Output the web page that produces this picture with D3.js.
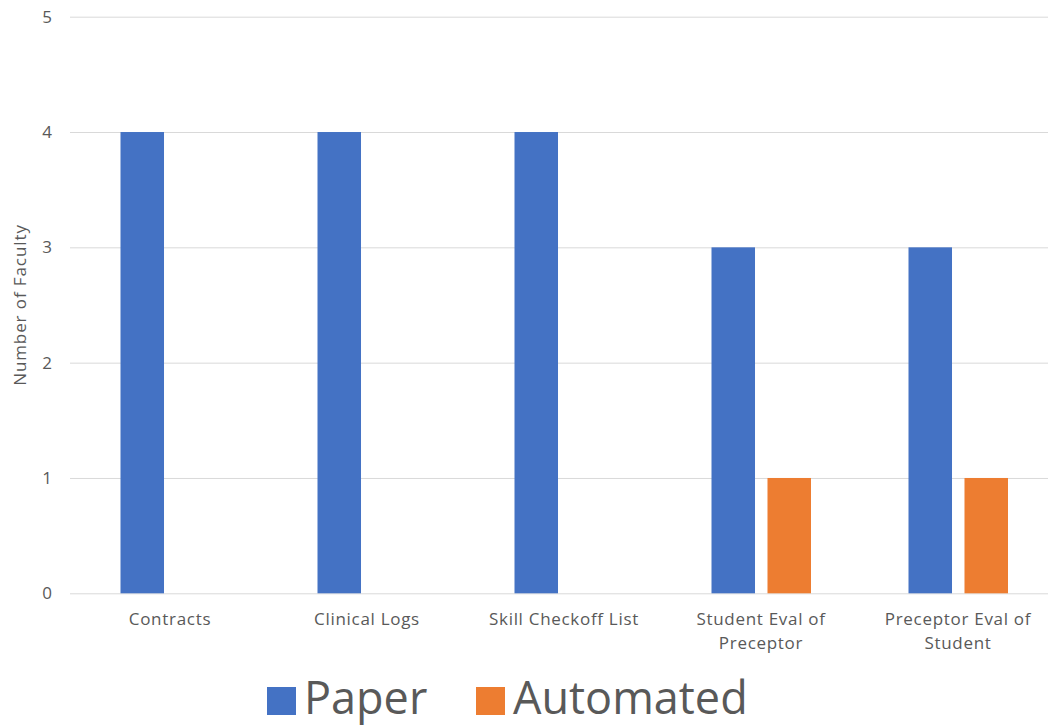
<!DOCTYPE html>
<html><head><meta charset="utf-8">
<script src="https://cdn.jsdelivr.net/npm/d3@7"></script>
<style>
html,body{margin:0;padding:0;background:#fff;}
svg{display:block;font-family:"Open Sans","Noto Sans",sans-serif;}
</style></head>
<body>
<svg id="chart" width="1048" height="726"></svg>
<script>
const categories = [["Contracts"], ["Clinical Logs"], ["Skill Checkoff List"], ["Student Eval of", "Preceptor"], ["Preceptor Eval of", "Student"]];
const series = ["Paper", "Automated"];
const paperValues = [4, 4, 4, 3, 3];
const automatedValues = [0, 0, 0, 1, 1];
const yTicks = [0, 1, 2, 3, 4, 5];
const colors = ["#4472C4", "#ED7D31"];

const svg = d3.select("#chart");
const catKeys = categories.map(c => c.join(" "));
const x0 = d3.scaleBand().domain(catKeys).range([71.5, 1056.5]).padding(0);
const x1 = d3.scaleBand().domain(series).range([49, 148.5]).paddingInner(0.223);
const y = d3.scaleLinear().domain([0, 5]).range([593.3, 16.7]);

// gridlines
const yAxis = d3.axisLeft(y).tickValues(yTicks).tickSize(-(1056.5 - 70)).tickPadding(18).tickFormat(d3.format("d"));
const gy = svg.append("g").attr("transform", "translate(70,0)").call(yAxis);
gy.select(".domain").remove();
gy.selectAll(".tick line").attr("stroke", "#d9d9d9").attr("stroke-width", 1);
gy.selectAll(".tick text").attr("fill", "#595959").style("font-size", "17px").attr("font-family", "Open Sans");

const data = catKeys.map((k, i) => ({ key: k, values: [paperValues[i], automatedValues[i]] }));
const groups = svg.append("g").selectAll("g").data(data).join("g")
  .attr("transform", d => `translate(${x0(d.key)},0)`);
groups.selectAll("rect").data(d => d.values.map((v, j) => ({ s: series[j], v, j })).filter(e => e.v > 0))
  .join("rect")
  .attr("x", d => x1(d.s)).attr("width", x1.bandwidth())
  .attr("y", d => y(d.v)).attr("height", d => y(0) - y(d.v))
  .attr("fill", d => colors[d.j]);

// category labels
const xl = svg.append("g");
categories.forEach((lines, i) => {
  const cx = x0(catKeys[i]) + x0.bandwidth() / 2;
  const t = xl.append("text").attr("text-anchor", "middle").attr("fill", "#595959")
    .style("font-size", "17px").style("letter-spacing", "0.7px")
    .attr("x", cx).attr("y", 625);
  lines.forEach((ln, k) => t.append("tspan").attr("x", cx).attr("dy", k === 0 ? 0 : 24).text(ln));
});

// y title
svg.append("text").attr("transform", "translate(26,305) rotate(-90)").attr("text-anchor", "middle")
  .attr("fill", "#595959").style("font-size", "17px").style("letter-spacing", "0.9px").text("Number of Faculty");

// legend
const legend = svg.append("g");
const legX = [267, 476];
series.forEach((s, i) => {
  legend.append("rect").attr("x", legX[i]).attr("y", 687).attr("width", 29).attr("height", 28).attr("fill", colors[i]);
  legend.append("text").attr("x", legX[i] + 37).attr("y", 714).attr("fill", "#595959").style("font-size", "45px").text(s);
});
</script>
</body></html>
